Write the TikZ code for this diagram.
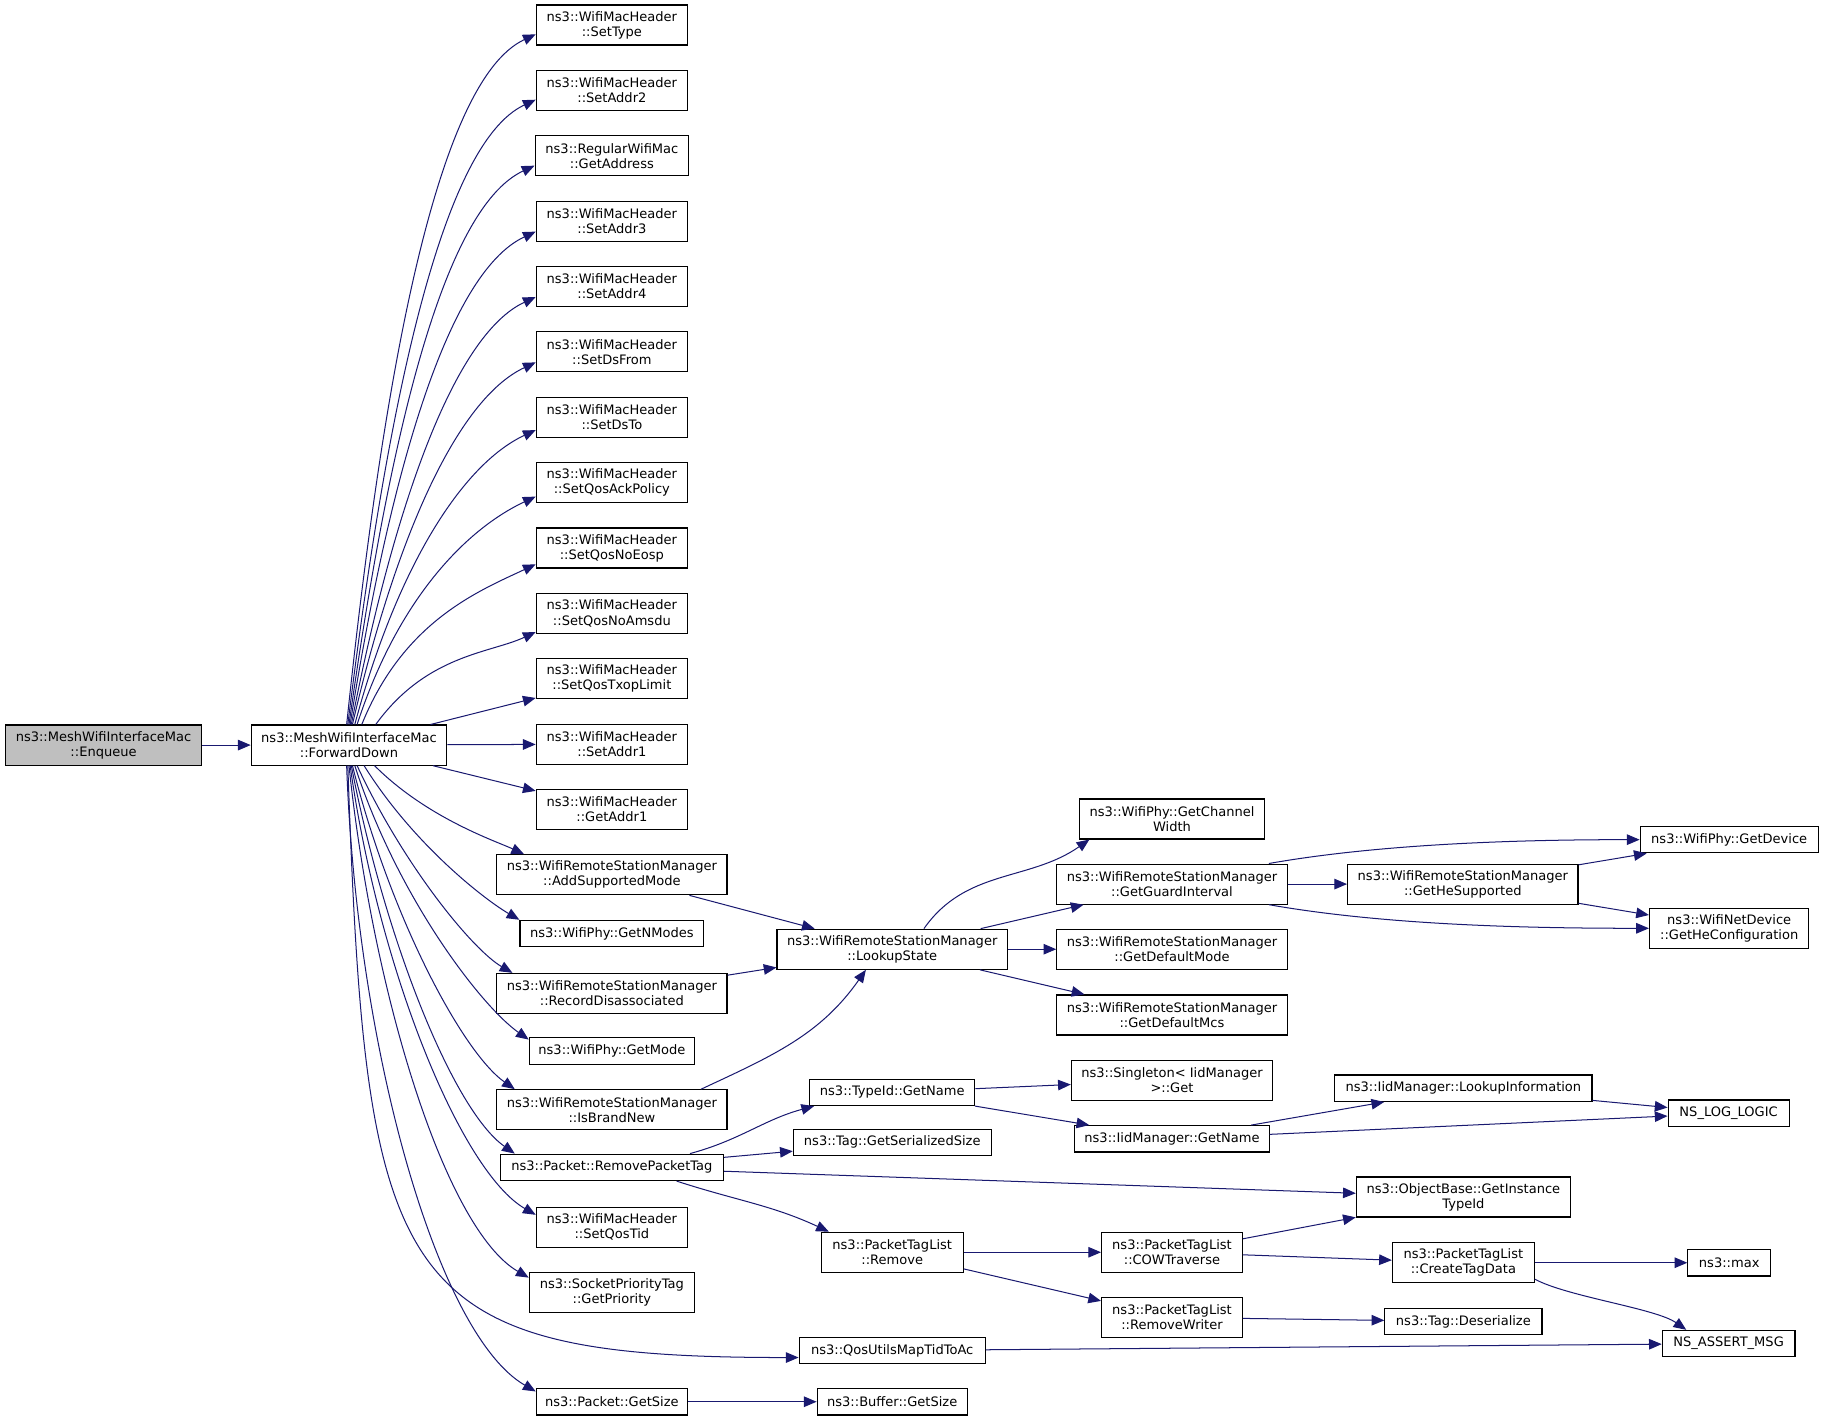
\documentclass[tikz,border=0pt]{standalone}
\usepackage{fontspec}
\setmainfont{DejaVu Sans}
\usetikzlibrary{arrows.meta, calc, positioning}
\definecolor{mblue}{HTML}{191970}
\definecolor{rootgray}{HTML}{BFBFBF}
\begin{document}
\begin{tikzpicture}[x=0.75pt, y=0.75pt,
  fn/.style={draw=black, line width=0.75pt, fill=white, align=center, inner sep=0pt,
    font=\fontsize{8.4}{9.8}\selectfont, minimum height=25.8pt, minimum width=#1*0.75pt},
  fn/.default=130,
  fs/.style={fn=#1, minimum height=17pt},
  fs/.default=130,
  calls/.style={draw=mblue, line width=0.65pt, -{Triangle[length=8.2pt,width=6.8pt]}}]
\fill[white] (0,0) rectangle (1568,-1221);
\useasboundingbox (0,0) rectangle (1568,-1221);

\node[fn=168, fill=rootgray] (en) at (89,-640.5) {ns3::MeshWifiInterfaceMac\\::Enqueue};
\node[fn=168] (fd) at (300,-640.5) {ns3::MeshWifiInterfaceMac\\::ForwardDown};

\foreach \n/\w/\t [count=\i from 0] in {st/130/{ns3::WifiMacHeader\\::SetType},
    sa2/130/{ns3::WifiMacHeader\\::SetAddr2}, ga/132/{ns3::RegularWifiMac\\::GetAddress},
    sa3/130/{ns3::WifiMacHeader\\::SetAddr3}, sa4/130/{ns3::WifiMacHeader\\::SetAddr4},
    sdf/130/{ns3::WifiMacHeader\\::SetDsFrom}, sdt/130/{ns3::WifiMacHeader\\::SetDsTo},
    sqap/130/{ns3::WifiMacHeader\\::SetQosAckPolicy}, sqne/130/{ns3::WifiMacHeader\\::SetQosNoEosp},
    sqna/130/{ns3::WifiMacHeader\\::SetQosNoAmsdu}, sqtl/130/{ns3::WifiMacHeader\\::SetQosTxopLimit},
    sa1/130/{ns3::WifiMacHeader\\::SetAddr1}, gaddr1/130/{ns3::WifiMacHeader\\::GetAddr1}}
  \node[fn=\w] (\n) at (526,{-21.5-56.2*\i}) {\t};

\node[fn=198] (asm) at (526,-752) {ns3::WifiRemoteStationManager\\::AddSupportedMode};
\node[fs=158] (gnm) at (526,-802.5) {ns3::WifiPhy::GetNModes};
\node[fn=198] (rd) at (526,-854) {ns3::WifiRemoteStationManager\\::RecordDisassociated};
\node[fs=142] (gm) at (526,-903.5) {ns3::WifiPhy::GetMode};
\node[fn=198] (ibn) at (526,-954) {ns3::WifiRemoteStationManager\\::IsBrandNew};
\node[fs=192] (rpt) at (526,-1003.5) {ns3::Packet::RemovePacketTag};
\node[fn=130] (sqt) at (526,-1055) {ns3::WifiMacHeader\\::SetQosTid};
\node[fn=142] (gp) at (526,-1111) {ns3::SocketPriorityTag\\::GetPriority};
\node[fs=130] (pgs) at (526,-1205) {ns3::Packet::GetSize};

\node[fn=198] (ls) at (767,-816) {ns3::WifiRemoteStationManager\\::LookupState};
\node[fs=142] (tgn) at (767,-939) {ns3::TypeId::GetName};
\node[fs=170] (tgss) at (767,-982) {ns3::Tag::GetSerializedSize};
\node[fn=122] (ptr) at (767,-1076.5) {ns3::PacketTagList\\::Remove};
\node[fs=160] (qos) at (767,-1161) {ns3::QosUtilsMapTidToAc};
\node[fs=129] (bgs) at (767,-1205) {ns3::Buffer::GetSize};

\node[fn=159] (gcw) at (1007.5,-704) {ns3::WifiPhy::GetChannel\\Width};
\node[fn=198] (ggi) at (1007.5,-760) {ns3::WifiRemoteStationManager\\::GetGuardInterval};
\node[fn=198] (gdm) at (1007.5,-816) {ns3::WifiRemoteStationManager\\::GetDefaultMode};
\node[fn=198] (gdmc) at (1007.5,-872.5) {ns3::WifiRemoteStationManager\\::GetDefaultMcs};
\node[fn=173] (sgt) at (1007.5,-928.5) {ns3::Singleton< IidManager\\>::Get};
\node[fs=167] (ign) at (1007.5,-979) {ns3::IidManager::GetName};
\node[fn=121] (cow) at (1007.5,-1076.5) {ns3::PacketTagList\\::COWTraverse};
\node[fn=121] (rw) at (1007.5,-1132.5) {ns3::PacketTagList\\::RemoveWriter};

\node[fn=198] (ghs) at (1257.5,-760) {ns3::WifiRemoteStationManager\\::GetHeSupported};
\node[fs=221] (lui) at (1258,-935.5) {ns3::IidManager::LookupInformation};
\node[fn=184] (git) at (1258,-1029) {ns3::ObjectBase::GetInstance\\TypeId};
\node[fn=122] (ctd) at (1258,-1085.5) {ns3::PacketTagList\\::CreateTagData};
\node[fs=135] (tdes) at (1258,-1136) {ns3::Tag::Deserialize};

\node[fs=153] (gdev) at (1486.5,-721.8) {ns3::WifiPhy::GetDevice};
\node[fn=137] (ghc) at (1486.5,-798) {ns3::WifiNetDevice\\::GetHeConfiguration};
\node[fs=104] (nll) at (1486,-957) {NS\_LOG\_LOGIC};
\node[fs=71] (nmax) at (1486.5,-1085.5) {ns3::max};
\node[fs=114] (nam) at (1486,-1155) {NS\_ASSERT\_MSG};

\draw[calls] (en) -- (fd);
\foreach \t/\xs/\o/\dy/\il in {st/-2/84/8/0.4, sa2/-1/83/8/0.42, ga/0/82/8.5/0.45,
    sa3/1/81/9/0.48, sa4/2/79/9/0.5, sdf/3/77/9/0.55, sdt/5/75/11/0.6,
    sqap/7/72/12/0.65, sqne/11/68/14/0.7, sqna/23/54/16/0.7}
  \draw[calls] ($(fd.north)+(\xs,0)$) to[out=\o, in=205, out looseness=1.2, in looseness=\il] ($(\t.west)+(0,-\dy)$);
\draw[calls] (fd) -- (sqtl);
\draw[calls] (fd) -- (sa1);
\draw[calls] (fd) -- (gaddr1);
\foreach \t/\xs/\o/\ex/\ey/\a in {asm/22/-45/24/0/155, gnm/13/-58/0/0/150, rd/7/-65/14/0/150,
    gm/5/-72/0/2/145, ibn/3/-76/16/0/145, rpt/2/-79/13/0/145, sqt/1/-82/0/7/150,
    gp/0/-84/0/5/150, pgs/-2/-88/0/3/150}
  \draw[calls] ($(fd.south)+(\xs,0)$) to[out=\o, in=\a, out looseness=1.1, in looseness=0.45] ($(\t.north west)+(\ex,-\ey)$);
\draw[calls] ($(fd.south)+(-1,0)$) to[out=-88, in=180, out looseness=1.8, in looseness=1.4] ($(qos.west)+(0,-6)$);

\draw[calls] (asm) -- (ls);
\draw[calls] (rd) -- (ls);
\draw[calls] (ibn.13) to[out=25, in=235] (ls.218);
\draw[calls] (ls.33) to[out=55, in=215] (gcw.194);
\draw[calls] (ls) -- (ggi);
\draw[calls] (ls) -- (gdm);
\draw[calls] (ls) -- (gdmc);
\draw[calls] (ggi.12) to[out=10, in=180, looseness=0.8] (gdev);
\draw[calls] (ggi) -- (ghs);
\draw[calls] (ggi.-12) to[out=-10, in=180, looseness=0.8] (ghc);
\draw[calls] (ghs) -- (gdev);
\draw[calls] (ghs) -- (ghc);
\draw[calls] (rpt.10) to[out=15, in=195] (tgn.190);
\draw[calls] (rpt) -- (tgss);
\draw[calls] (rpt) -- (git);
\draw[calls] (rpt.-12) to[out=-18, in=155] (ptr.162);
\draw[calls] (tgn) -- (sgt);
\draw[calls] (tgn) -- (ign);
\draw[calls] (ign) -- (lui);
\draw[calls] (ign) -- (nll);
\draw[calls] (lui) -- (nll);
\draw[calls] (ptr) -- (cow);
\draw[calls] (ptr) -- (rw);
\draw[calls] (cow) -- (git);
\draw[calls] (cow) -- (ctd);
\draw[calls] (ctd) -- (nmax);
\draw[calls] (ctd.-13) to[out=-28, in=145, looseness=0.6] (nam.162);
\draw[calls] (rw) -- (tdes);
\draw[calls] (qos) -- (nam);
\draw[calls] (pgs) -- (bgs);
\end{tikzpicture}
\end{document}
